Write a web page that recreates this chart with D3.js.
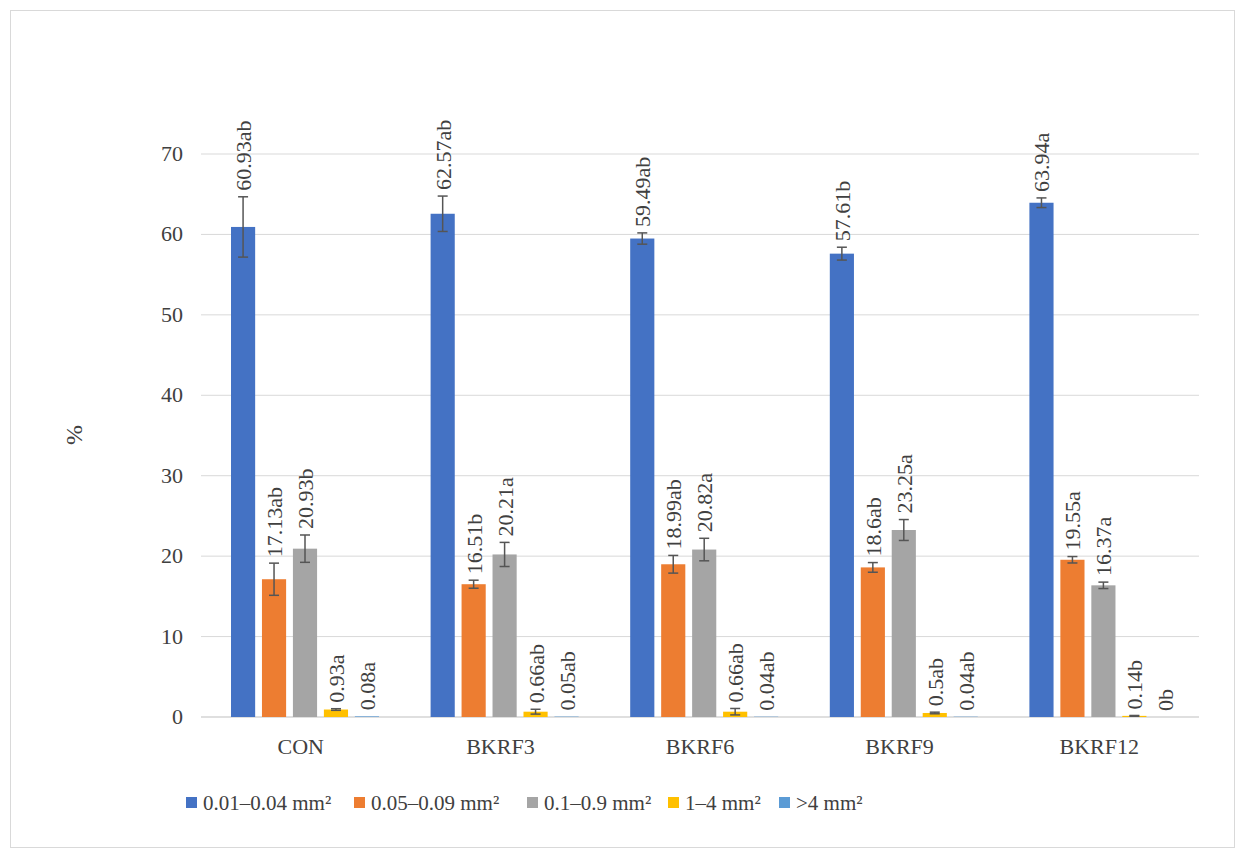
<!DOCTYPE html>
<html><head><meta charset="utf-8">
<script src="https://cdn.jsdelivr.net/npm/d3@7"></script>
<style>body{margin:0;background:#fff}svg text{font-family:"Liberation Serif","Times New Roman","DejaVu Serif",serif !important;fill:#404040}</style>
</head><body><svg id="c" width="1246" height="859"></svg>
<script>
const categories = ["CON", "BKRF3", "BKRF6", "BKRF9", "BKRF12"];
const seriesNames = ["0.01–0.04 mm²", "0.05–0.09 mm²", "0.1–0.9 mm²", "1–4 mm²", ">4 mm²"];
const colors = ["#4472C4", "#ED7D31", "#A5A5A5", "#FFC000", "#5B9BD5"];
const values = [
  [60.93, 62.57, 59.49, 57.61, 63.94],
  [17.13, 16.51, 18.99, 18.6, 19.55],
  [20.93, 20.21, 20.82, 23.25, 16.37],
  [0.93, 0.66, 0.66, 0.5, 0.14],
  [0.08, 0.05, 0.04, 0.04, 0]
];
const errors = [
  [3.75, 2.2, 0.7, 0.8, 0.6],
  [2.0, 0.5, 1.1, 0.6, 0.4],
  [1.7, 1.5, 1.4, 1.3, 0.4],
  [0.1, 0.3, 0.4, 0.1, 0.05],
  [0, 0, 0, 0, 0]
];
const labels = [
  ["60.93ab", "62.57ab", "59.49ab", "57.61b", "63.94a"],
  ["17.13ab", "16.51b", "18.99ab", "18.6ab", "19.55a"],
  ["20.93b", "20.21a", "20.82a", "23.25a", "16.37a"],
  ["0.93a", "0.66ab", "0.66ab", "0.5ab", "0.14b"],
  ["0.08a", "0.05ab", "0.04ab", "0.04ab", "0b"]
];
const ticks = [0, 10, 20, 30, 40, 50, 60, 70];

const svg = d3.select("#c");
svg.append("rect").attr("x", 10.5).attr("y", 10.5).attr("width", 1224).attr("height", 837)
  .attr("fill", "#fff").attr("stroke", "#d9d9d9");

const x = d3.scaleBand().domain(categories).range([201, 1199]);
const y = d3.scaleLinear().domain([0, 70]).range([717, 154]);
const xs = d3.scaleBand().domain(d3.range(5)).range([30, 178]).paddingInner(0.22);

svg.append("g").selectAll("line").data(ticks).join("line")
  .attr("x1", 201).attr("x2", 1199).attr("y1", d => y(d)).attr("y2", d => y(d))
  .attr("stroke", d => d === 0 ? "#bfbfbf" : "#d9d9d9");
svg.append("g").selectAll("text").data(ticks).join("text")
  .attr("x", 183).attr("y", d => y(d) + 7).attr("text-anchor", "end")
  .attr("font-size", 22).text(d => d);
svg.append("text").attr("transform", "translate(82,435) rotate(-90)")
  .attr("text-anchor", "middle").attr("font-size", 24).text("%");
svg.append("g").selectAll("text").data(categories).join("text")
  .attr("x", d => x(d) + x.bandwidth() / 2).attr("y", 754).attr("text-anchor", "middle")
  .attr("font-size", 22).text(d => d);

values.forEach((vals, s) => {
  const g = svg.append("g");
  categories.forEach((c, i) => {
    const bx = x(c) + xs(s), bw = xs.bandwidth(), v = vals[i], e = errors[s][i];
    g.append("rect").attr("x", bx).attr("width", bw).attr("y", y(v))
      .attr("height", Math.max(y(0) - y(v), 0)).attr("fill", colors[s]);
    const cx = bx + bw / 2;
    if (e > 0) {
      g.append("line").attr("x1", cx).attr("x2", cx).attr("y1", y(v - e)).attr("y2", y(v + e)).attr("stroke", "#555").attr("stroke-width", 1.5);
      [v - e, v + e].forEach(t => g.append("line").attr("x1", cx - 5).attr("x2", cx + 5)
        .attr("y1", y(t)).attr("y2", y(t)).attr("stroke", "#555").attr("stroke-width", 1.5));
    }
    g.append("text").attr("transform", `translate(${cx + 8},${y(v + e) - 6}) rotate(-90)`)
      .attr("font-size", 22).text(labels[s][i]);
  });
});

const lx = [186, 354, 527, 668, 779];
const lg = svg.append("g").selectAll("g").data(seriesNames).join("g")
  .attr("transform", (d, i) => `translate(${lx[i]},803)`);
lg.append("rect").attr("x", 0).attr("y", -6).attr("width", 11).attr("height", 11).attr("fill", (d, i) => colors[i]);
lg.append("text").attr("x", 17).attr("y", 7).attr("font-size", 21).text(d => d);
</script></body></html>
